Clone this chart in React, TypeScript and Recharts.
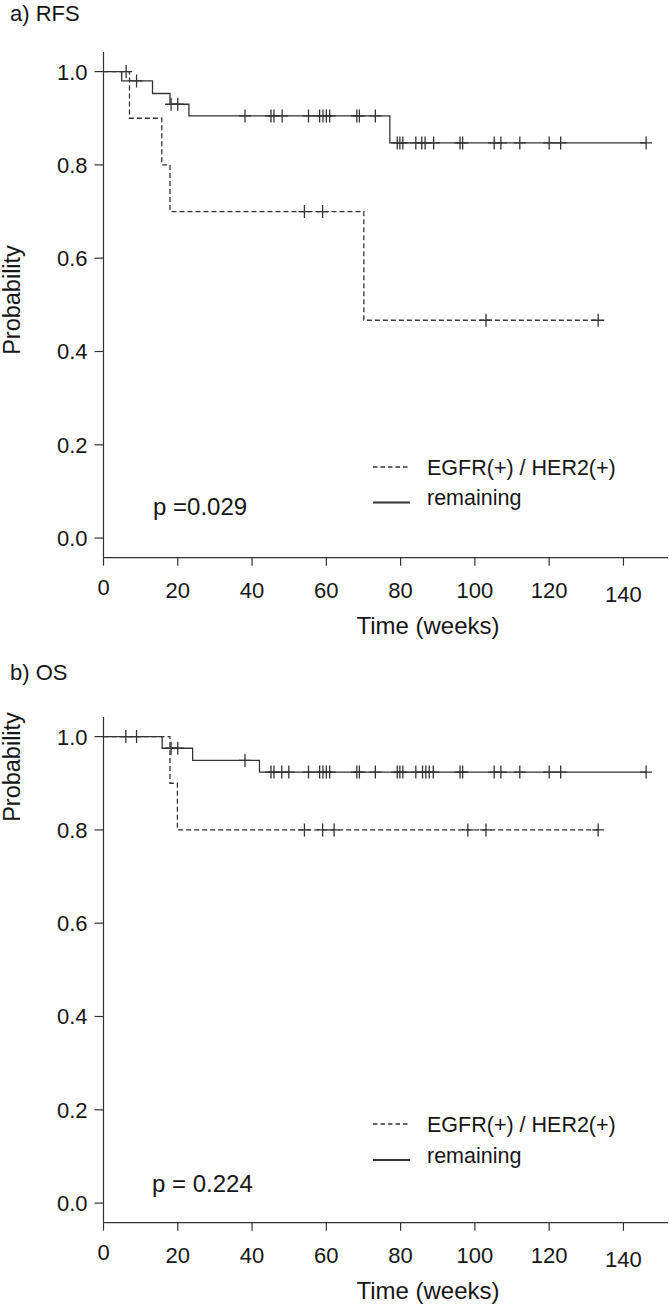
import React from 'react';
import { ComposedChart, Line, Scatter, XAxis, YAxis } from 'recharts';

const FONT = '"Liberation Sans", Arial, sans-serif';
const INK = '#333333';
const TEXT = '#161616';

// ---- axis ticks ----
const xTicks = [0, 20, 40, 60, 80, 100, 120, 140];
const yTicks = [0, 0.2, 0.4, 0.6, 0.8, 1.0];

// ---- a) RFS ----
const rfsEgfrTimes = [0, 7.0, 15.7, 17.9, 70.1, 133.2];
const rfsEgfrSurv = [1.0, 0.9, 0.8, 0.7, 0.467, 0.467];
const rfsEgfrCensor = [6.1, 54.1, 59.0, 103.0, 133.2];

const rfsRemTimes = [0, 4.9, 13.2, 17.9, 23.0, 77.1, 146.1];
const rfsRemSurv = [1.0, 0.98, 0.953, 0.93, 0.905, 0.847, 0.847];
const rfsRemCensor = [8.9, 18.2, 20.0, 38.1, 45.1, 45.9, 48.1, 55.2, 58.2, 59.1, 60.0, 60.9, 68.2, 68.9, 73.2,
  79.1, 79.8, 80.6, 84.1, 85.7, 86.6, 88.9, 96.0, 96.7, 105.2, 107.0, 112.1, 120.0, 123.1, 146.1];

// ---- b) OS ----
const osEgfrTimes = [0, 17.9, 19.9, 133.2];
const osEgfrSurv = [1.0, 0.9, 0.8, 0.8];
const osEgfrCensor = [54.1, 59.0, 62.1, 98.1, 103.0, 133.2];

const osRemTimes = [0, 15.8, 24.0, 42.0, 146.1];
const osRemSurv = [1.0, 0.975, 0.949, 0.924, 0.924];
const osRemCensor = [6.0, 8.9, 18.2, 20.0, 38.1, 45.1, 45.9, 48.0, 49.9, 55.2, 58.2, 59.1, 60.0, 60.9, 68.2, 68.9, 73.2,
  79.1, 79.8, 80.6, 84.1, 85.9, 86.8, 87.7, 88.8, 96.0, 96.7, 105.2, 107.0, 112.1, 120.0, 123.1, 146.1];

const seriesNames = ['EGFR(+) / HER2(+)', 'remaining'];

function toRows(times: number[], surv: number[]) {
  return times.map((t, i) => ({ t, s: surv[i] }));
}
function stepValue(times: number[], surv: number[], t: number) {
  let v = surv[0];
  for (let i = 0; i < times.length; i++) if (times[i] <= t) v = surv[i];
  return v;
}
function censorRows(times: number[], surv: number[], cens: number[]) {
  return cens.map((t) => ({ t, s: stepValue(times, surv, t) }));
}

const Plus = (props: any) => {
  const { cx, cy } = props;
  if (cx == null || cy == null) return null;
  return (
    <path d={`M${cx - 6},${cy}H${cx + 6}M${cx},${cy - 6.5}V${cy + 6.5}`} stroke={INK} strokeWidth={1.3} fill="none" />
  );
};

const XTick = (props: any) => {
  const { x, y, payload } = props;
  const extra = payload.value === 140 ? 4 : payload.value === 0 ? -3 : 0;
  return (
    <text x={x} y={y + extra} dy="0.71em" textAnchor="middle" fontSize={22} fontFamily={FONT} fill={TEXT}>
      {payload.value}
    </text>
  );
};

const YTick = (props: any) => {
  const { x, y, payload } = props;
  return (
    <text x={x} y={y} dy="0.36em" textAnchor="end" fontSize={22} fontFamily={FONT} fill={TEXT}>
      {Number(payload.value).toFixed(1)}
    </text>
  );
};

type PanelProps = {
  eT: number[]; eS: number[]; eC: number[];
  rT: number[]; rS: number[]; rC: number[];
};

function Panel({ eT, eS, eC, rT, rS, rC }: PanelProps) {
  return (
    <ComposedChart width={669} height={640} margin={{ top: 52, right: 1, bottom: 0, left: 3.5 }}>
      <XAxis
        type="number"
        dataKey="t"
        domain={[0, 152]}
        ticks={xTicks}
        allowDataOverflow
        tickSize={8}
        tickMargin={17}
        height={82.3}
        stroke={INK}
        strokeWidth={1.2}
        tick={<XTick />}
      />
      <YAxis
        type="number"
        dataKey="s"
        domain={[-0.042, 1.042]}
        ticks={yTicks}
        allowDataOverflow
        width={100}
        tickSize={9}
        tickMargin={7}
        stroke={INK}
        strokeWidth={1.2}
        tick={<YTick />}
      />
      <Line
        data={toRows(rT, rS)}
        dataKey="s"
        name={seriesNames[1]}
        type="stepAfter"
        stroke={INK}
        strokeWidth={1.3}
        dot={false}
        activeDot={false}
        isAnimationActive={false}
      />
      <Line
        data={toRows(eT, eS)}
        dataKey="s"
        name={seriesNames[0]}
        type="stepAfter"
        stroke={INK}
        strokeWidth={1.3}
        strokeDasharray="5 3"
        dot={false}
        activeDot={false}
        isAnimationActive={false}
      />
      <Scatter data={censorRows(rT, rS, rC)} dataKey="s" shape={<Plus />} legendType="none" isAnimationActive={false} />
      <Scatter data={censorRows(eT, eS, eC)} dataKey="s" shape={<Plus />} legendType="none" isAnimationActive={false} />
    </ComposedChart>
  );
}

function Legend2({ y1, t1, y2, t2 }: { y1: number; t1: number; y2: number; t2: number }) {
  return (
    <g>
      <line x1={373} x2={410} y1={y1} y2={y1} stroke={INK} strokeWidth={1.5} strokeDasharray="4.5 3" />
      <text x={427} y={t1} fontSize={21.5} fontFamily={FONT} fill={TEXT}>{seriesNames[0]}</text>
      <line x1={373} x2={410} y1={y2} y2={y2} stroke={INK} strokeWidth={1.8} />
      <text x={427} y={t2} fontSize={21.5} fontFamily={FONT} fill={TEXT}>{seriesNames[1]}</text>
    </g>
  );
}

export default function App() {
  return (
    <div style={{ position: 'absolute', left: 0, top: 0, width: 669, height: 1305, background: '#fff', overflow: 'hidden' }}>
      <div style={{ position: 'absolute', left: 0, top: 0 }}>
        <Panel eT={rfsEgfrTimes} eS={rfsEgfrSurv} eC={rfsEgfrCensor} rT={rfsRemTimes} rS={rfsRemSurv} rC={rfsRemCensor} />
      </div>
      <div style={{ position: 'absolute', left: 0, top: 665 }}>
        <Panel eT={osEgfrTimes} eS={osEgfrSurv} eC={osEgfrCensor} rT={osRemTimes} rS={osRemSurv} rC={osRemCensor} />
      </div>
      <svg width={669} height={1305} style={{ position: 'absolute', left: 0, top: 0, pointerEvents: 'none' }}>
        <text x={10} y={21} fontSize={22} fontFamily={FONT} fill={TEXT}>a) RFS</text>
        <text transform="translate(20,300) rotate(-90)" textAnchor="middle" fontSize={23.5} fontFamily={FONT} fill={TEXT}>Probability</text>
        <text x={428} y={634} textAnchor="middle" fontSize={24} fontFamily={FONT} fill={TEXT}>Time (weeks)</text>
        <text x={153} y={515} fontSize={24} fontFamily={FONT} fill={TEXT}>p =0.029</text>
        <Legend2 y1={467} t1={475} y2={502.5} t2={505} />

        <text x={10} y={680} fontSize={22} fontFamily={FONT} fill={TEXT}>b) OS</text>
        <text transform="translate(20,767) rotate(-90)" textAnchor="middle" fontSize={23.5} fontFamily={FONT} fill={TEXT}>Probability</text>
        <text x={428} y={1299} textAnchor="middle" fontSize={24} fontFamily={FONT} fill={TEXT}>Time (weeks)</text>
        <text x={152} y={1192} fontSize={24} fontFamily={FONT} fill={TEXT}>p = 0.224</text>
        <Legend2 y1={1124} t1={1132} y2={1160} t2={1163} />
      </svg>
    </div>
  );
}
